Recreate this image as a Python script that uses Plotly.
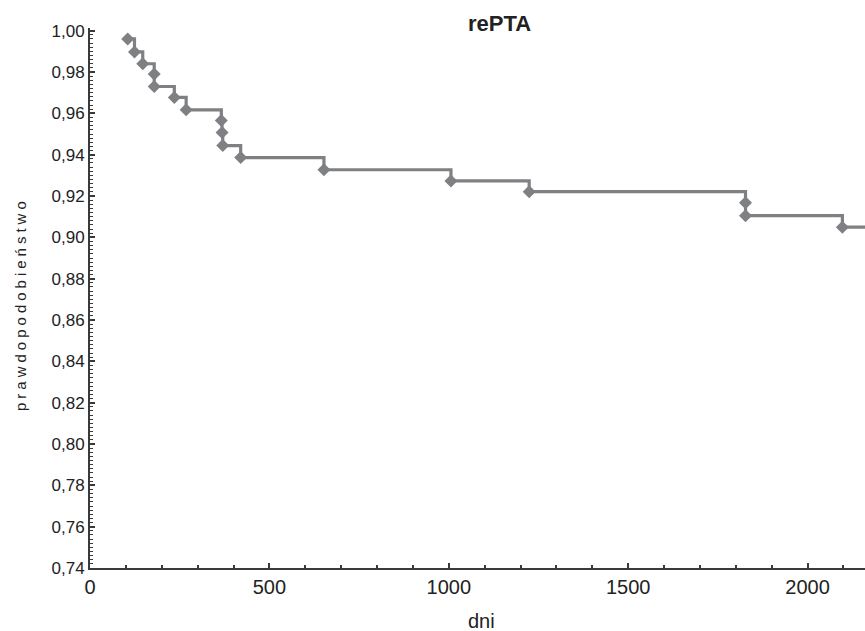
import plotly.graph_objects as go

# Kaplan-Meier estimate
times = [105, 124, 147, 179, 179, 235, 268, 366, 368, 370, 420, 652, 1006, 1224, 1827, 1827, 2097]
surv = [0.9960, 0.9897, 0.9840, 0.9790, 0.9730, 0.9677, 0.9617, 0.9565, 0.9507,
        0.9444, 0.9386, 0.9327, 0.9273, 0.9221, 0.9168, 0.9105, 0.9049]
last_time = 2250  # follow-up continues past the visible edge

x_ticks = [0, 500, 1000, 1500, 2000]
y_ticks = [0.74, 0.76, 0.78, 0.80, 0.82, 0.84, 0.86, 0.88, 0.90, 0.92, 0.94, 0.96, 0.98, 1.00]

title_text = "rePTA"
x_title = "dni"
y_title = "prawdopodobieństwo"

GRAY = "#7f8083"
AX = "#3a3a3a"
TXT = "#222222"

fig = go.Figure()
fig.add_trace(go.Scatter(
    x=times + [last_time], y=surv + [surv[-1]],
    mode="lines", line=dict(color=GRAY, width=3.2, shape="hv"),
    hoverinfo="skip", showlegend=False))
fig.add_trace(go.Scatter(
    x=times, y=surv, mode="markers",
    marker=dict(symbol="diamond", size=10, color=GRAY),
    showlegend=False))

font_family = "Liberation Sans, Arial, sans-serif"

fig.update_layout(
    width=865, height=631,
    margin=dict(l=90, r=0, t=28, b=63, autoexpand=False),
    paper_bgcolor="white", plot_bgcolor="white",
    separators=", ",
    font=dict(family=font_family, size=16, color=TXT),
    xaxis=dict(
        range=[0, 2160], tickvals=x_ticks, tickformat="d", automargin=False,
        showline=True, linecolor=AX, linewidth=2,
        showgrid=False, zeroline=False,
        ticks="inside", ticklen=5, tickwidth=2, tickcolor=AX,
        tickfont=dict(size=20, color=TXT),
        minor=dict(dtick=100, tick0=0, ticks="inside", ticklen=3, tickwidth=2, tickcolor=AX, showgrid=False),
    ),
    yaxis=dict(
        range=[0.74, 1.0013], tickvals=y_ticks, tickformat=".2f", automargin=False,
        showline=True, linecolor=AX, linewidth=2,
        showgrid=False, zeroline=False,
        ticks="inside", ticklen=5, tickwidth=2, tickcolor=AX,
        tickfont=dict(size=17, color=TXT),
        minor=dict(dtick=0.002, tick0=0.74, ticks="inside", ticklen=3, tickwidth=1, tickcolor=AX, showgrid=False),
    ),
    annotations=[
        dict(text="<b>" + title_text + "</b>", xref="paper", yref="paper",
             x=(499 - 90) / 775, y=(568 - 23.5) / 540, xanchor="center", yanchor="middle",
             showarrow=False, font=dict(size=22, color=TXT)),
        dict(text=x_title, xref="paper", yref="paper",
             x=(481 - 90) / 775, y=-(621 - 568) / 540, xanchor="center", yanchor="middle",
             showarrow=False, font=dict(size=20, color=TXT)),
        dict(text='<span style="letter-spacing:4px">' + y_title + '</span>',
             xref="paper", yref="paper", textangle=-90,
             x=(20 - 90) / 775, y=(568 - 304) / 540, xanchor="center", yanchor="middle",
             showarrow=False, font=dict(size=15, color=TXT)),
    ],
)

fig.write_html(
    "out.html",
    config={"displayModeBar": False},
    post_script="document.body.style.margin='0';document.body.style.overflow='hidden';",
)
